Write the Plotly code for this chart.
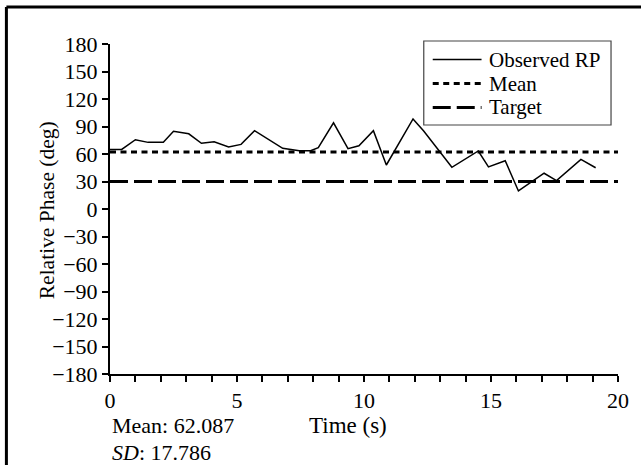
import plotly.graph_objects as go

time_s = [0, 0.46, 1.0, 1.5, 2.1, 2.5, 3.1, 3.6, 4.1, 4.67, 5.16, 5.69, 6.8, 7.45,
          7.9, 8.2, 8.8, 9.37, 9.8, 10.37, 10.88, 11.93, 12.35, 13.46, 14.5, 14.9,
          15.56, 16.08, 17.09, 17.58, 18.54, 19.12]
observed_rp = [65, 65, 75.6, 72.7, 72.7, 84.7, 82, 71.7, 73.4, 67.6, 70.5, 85.4, 66.2,
               63.6, 63.6, 66.9, 94, 65.8, 69, 85.4, 48, 98.2, 85, 45.5, 63.3, 46,
               52.7, 19.7, 39, 31, 54.2, 45]
mean_val = 62.087
sd_val = 17.786
target_val = 30
x_range = [0, 20]
y_ticks = list(range(-180, 181, 30))
legend_names = ["Observed RP", "Mean", "Target"]

FONT = "Liberation Serif, Times New Roman, serif"

# plot-area geometry in pixels
L, R, T, B = 110, 620, 44, 374
W, H = 641, 465


def px(xp):
    return (xp - L) / (R - L)


def py(yp):
    return (B - yp) / (B - T)


styles = [dict(color="black", width=1.5),
          dict(color="black", width=3, dash="6px,4.5px"),
          dict(color="black", width=3, dash="18px,6px")]

fig = go.Figure()
fig.add_trace(go.Scatter(x=time_s, y=observed_rp, mode="lines", name=legend_names[0],
                         line=styles[0]))
fig.add_trace(go.Scatter(x=x_range, y=[mean_val, mean_val], mode="lines", name=legend_names[1],
                         line=styles[1]))
fig.add_trace(go.Scatter(x=x_range, y=[target_val, target_val], mode="lines",
                         name=legend_names[2], line=styles[2]))

fig.update_layout(
    width=W, height=H,
    margin=dict(l=L, r=W - R, t=T, b=H - B),
    paper_bgcolor="white", plot_bgcolor="white",
    font=dict(family=FONT, size=22, color="black"),
    showlegend=False,
    xaxis=dict(range=x_range, dtick=5, tick0=0, ticks="outside", ticklen=6, tickwidth=2,
               tickcolor="black", showline=True, linecolor="black", linewidth=2,
               showgrid=False, zeroline=False, tickfont=dict(family=FONT, size=22),
               minor=dict(dtick=1, ticks="outside", ticklen=6, tickwidth=2, tickcolor="black",
                          showgrid=False)),
    yaxis=dict(range=[-180, 180], tickvals=y_ticks, ticks="outside", ticklen=6, tickwidth=2,
               tickcolor="black", showline=True, linecolor="black", linewidth=2,
               showgrid=False, zeroline=False, tickfont=dict(family=FONT, size=22)),
)

# legend box drawn by hand to match the reference layout
fig.add_shape(type="rect", xref="paper", yref="paper", x0=px(425), x1=px(613),
              y0=py(125), y1=py(41), line=dict(color="#444", width=1.2), fillcolor="white",
              layer="above")
row_y = [59.5, 83.5, 107.5]
for name, st, yy in zip(legend_names, styles, row_y):
    fig.add_shape(type="line", xref="paper", yref="paper", x0=px(434), x1=px(483),
                  y0=py(yy), y1=py(yy), line=st, layer="above")
    fig.add_annotation(text=name, xref="paper", yref="paper", x=px(488), y=py(yy),
                       xanchor="left", yanchor="middle", showarrow=False,
                       font=dict(family=FONT, size=21))

fig.add_annotation(text="Relative Phase (deg)", xref="paper", yref="paper",
                   x=px(47), y=py(210), xanchor="center", yanchor="middle",
                   textangle=-90, showarrow=False, font=dict(family=FONT, size=21.5))
fig.add_annotation(text="Time (s)", xref="paper", yref="paper",
                   x=px(349), y=py(425), xanchor="center", yanchor="middle",
                   showarrow=False, font=dict(family=FONT, size=23))
fig.add_annotation(text="Mean: %.3f" % mean_val, xref="paper", yref="paper",
                   x=px(110), y=py(425), xanchor="left", yanchor="middle",
                   showarrow=False, font=dict(family=FONT, size=22))
fig.add_annotation(text="<i>SD</i>: %.3f" % sd_val, xref="paper", yref="paper",
                   x=px(110), y=py(453), xanchor="left", yanchor="middle",
                   showarrow=False, font=dict(family=FONT, size=22))

# outer frame (top and left edges visible)
fig.add_shape(type="line", xref="paper", yref="paper", x0=px(6), x1=px(700),
              y0=py(7), y1=py(7), line=dict(color="black", width=3))
fig.add_shape(type="line", xref="paper", yref="paper", x0=px(6), x1=px(6),
              y0=py(7), y1=py(520), line=dict(color="black", width=3))

fig.write_html("out.html")
